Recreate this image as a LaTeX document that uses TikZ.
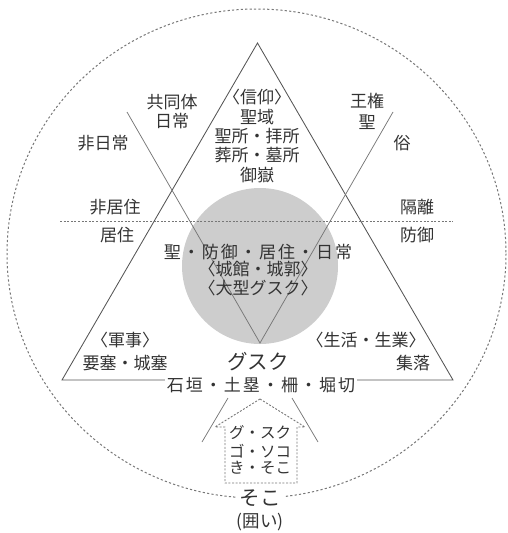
\documentclass[tikz,border=0pt]{standalone}
\usepackage{fontspec}
\setmainfont{Noto Sans CJK JP}
\newfontfamily\jpwide[LetterSpace=12]{Noto Sans CJK JP}
\definecolor{txt}{HTML}{333333}
\definecolor{lin}{HTML}{555555}
\definecolor{lin2}{HTML}{777777}
\definecolor{circ}{HTML}{CDCDCD}
\tikzset{
  lbl/.style={inner sep=0pt, text=txt, font=\fontsize{17}{19}\selectfont},
  big/.style={inner sep=0pt, text=txt, font=\fontsize{20.5}{22}\selectfont},
  small/.style={inner sep=0pt, text=txt, font=\fontsize{15.5}{17}\selectfont},
  tri/.style={draw=lin, line width=0.85pt},
  xline/.style={draw=lin2, line width=0.75pt},
  dotline/.style={draw=lin2, line width=0.9pt, dash pattern=on 2pt off 1.6pt},
  outer/.style={draw=lin2, line width=1pt, dash pattern=on 2.2pt off 2.2pt},
}
\begin{document}
\begin{tikzpicture}[x=1pt,y=-1pt]
\useasboundingbox (0,0) rectangle (507,533);
% outer dashed ellipse
\draw[outer] (256.5,253.5) ellipse [x radius=249.5, y radius=244.5];
% gray circle
\fill[circ] (260,266) circle [radius=78];
% coordinates
\coordinate (A) at (257.5,43);
\coordinate (BL) at (62,380);
\coordinate (BR) at (453,380);
\coordinate (P1) at (127,112);
\coordinate (P2) at (393,112);
\coordinate (X) at (260,343);
\coordinate (L1) at (228,398);
\coordinate (L2) at (202,442);
\coordinate (R1) at (292,398);
\coordinate (R2) at (318,442);
\coordinate (HL) at (60,221);
\coordinate (HR) at (453,221);
% triangle
\draw[tri] (A) -- (BL) -- (BR) -- cycle;
% inverted V and its continuation
\draw[xline] (P1) -- (X) -- (P2);
\draw[xline] (L1) -- (L2);
\draw[xline] (R1) -- (R2);
% horizontal dashed line
\draw[dotline] (HL) -- (HR);
% house shape
\coordinate (H0) at (260,399);
\coordinate (H1) at (215,427);
\coordinate (H2) at (225,427);
\coordinate (H3) at (225,483);
\coordinate (H4) at (297,483);
\coordinate (H5) at (297,427);
\coordinate (H6) at (305,427);
\draw[dotline] (H0) -- (H1) -- (H2) -- (H3) -- (H4) -- (H5) -- (H6) -- cycle;
% top block
\node[lbl] (shinko) at (257,97) {〈信仰〉};
\node[lbl] (seiiki) at (257,117) {聖域};
\node[lbl] (seisho) at (257,136) {聖所・拝所};
\node[lbl] (sosho) at (257,155) {葬所・墓所};
\node[lbl] (utaki) at (257,175) {御嶽};
% left labels
\node[lbl] (kyodo) at (172,102) {共同体};
\node[lbl] (nichijo) at (172,121) {日常};
\node[lbl] (hinichi) at (103,143) {非日常};
\node[lbl] (hikyo) at (115,207) {非居住};
\node[lbl] (kyoju) at (117,235) {居住};
% right labels
\node[lbl] (oken) at (367,101) {王権};
\node[lbl] (sei) at (367,122) {聖};
\node[lbl] (zoku) at (402,143) {俗};
\node[lbl] (kakuri) at (417,207) {隔離};
\node[lbl] (bogyo) at (417,235) {防御};
% center
\node[lbl, font=\fontsize{17}{19}\jpwide] (center1) at (258,252) {聖・防御・居住・日常};
\node[lbl] (center2) at (258,269) {〈城館・城郭〉};
\node[lbl] (center3) at (258,288) {〈大型グスク〉};
% bottom row
\node[lbl] (gunji) at (125,340) {〈軍事〉};
\node[lbl] (yosai) at (125,363) {要塞・城塞};
\node[big] (gusuku) at (258,362) {グスク};
\node[lbl] (seikatsu) at (366,340) {〈生活・生業〉};
\node[lbl] (shuraku) at (413,363) {集落};
\node[lbl, font=\fontsize{17}{19}\jpwide, fill=white, inner sep=2pt] (ishigaki) at (261,385) {石垣・土塁・柵・堀切};
% house text
\node[small] (h1) at (260,433) {グ・スク};
\node[small] (h2) at (260,451) {ゴ・ソコ};
\node[small] (h3) at (260,468) {き・そこ};
\node[big, fill=white, inner sep=4pt] (soko) at (260,498) {そこ};
\node[small, font=\fontsize{17.5}{19}\selectfont] (kakoi) at (260,522) {(囲い)};
\end{tikzpicture}
\end{document}
